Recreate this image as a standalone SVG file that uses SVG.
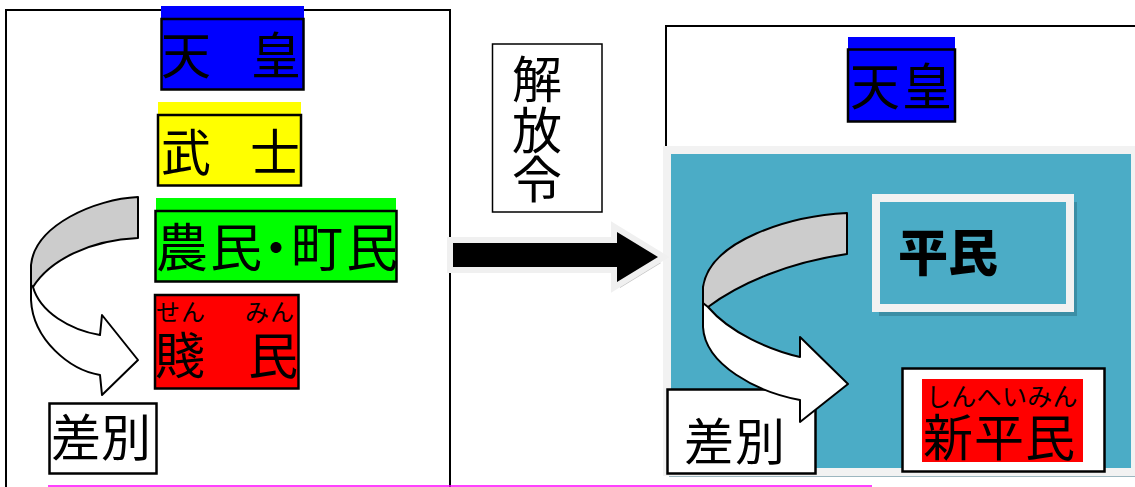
<svg xmlns="http://www.w3.org/2000/svg" width="1135" height="487" viewBox="0 0 1135 487">
<style>
.t{font-family:"Noto Sans CJK JP","Noto Sans CJK SC",sans-serif;fill:#000}
.box{stroke:#000;stroke-width:2.5}
.frame{fill:none;stroke:#000;stroke-width:2}
.arr{stroke:#000;stroke-width:2;stroke-linejoin:round}
</style>
<rect width="1135" height="487" fill="#fff"/>
<g id="left-frame"><path class="frame" d="M6,487 V10 H450 V487"/></g>
<g id="right-frame"><path class="frame" d="M666,150 V26 H1135"/></g>
<line x1="48" y1="486" x2="872" y2="486" stroke="#ff00ff" stroke-width="1.5"/>

<g id="tenno-left">
<rect x="161" y="6" width="143" height="12" fill="#0000ff"/>
<rect class="box" x="161.5" y="19" width="142" height="70.5" fill="#0000ff"/>
<text class="t" font-size="50" x="161 251" y="74">天皇</text>
</g>
<g id="bushi">
<rect x="158" y="102" width="143" height="12" fill="#ffff00"/>
<rect class="box" x="158" y="115" width="143" height="70.5" fill="#ffff00"/>
<text class="t" font-size="50" x="161 250" y="170.5">武士</text>
</g>
<g id="nomin-chomin">
<rect x="156" y="198" width="240" height="12" fill="#00ff00"/>
<rect class="box" x="155.5" y="211" width="241" height="70.5" fill="#00ff00"/>
<text class="t" font-size="52" x="156 210 250 291 346" y="267">農民・町民</text>
</g>
<g id="senmin">
<rect class="box" x="155" y="295" width="143.5" height="93.5" fill="#ff0000"/>
<text class="t" font-size="24" x="156 181 245 270" y="321">せんみん</text>
<text class="t" font-size="50" x="155 248" y="373.5">賤民</text>
</g>
<g id="sabetsu-left">
<rect class="box" x="49.5" y="403.5" width="107" height="70" fill="#fff"/>
<text class="t" font-size="50" x="51 101" y="456">差別</text>
</g>
<g id="kaihorei">
<rect x="492.5" y="44" width="109.5" height="168" fill="#fff" stroke="#000" stroke-width="1.5"/>
<text class="t" font-size="50" text-anchor="middle" x="537" y="98">解</text>
<text class="t" font-size="50" text-anchor="middle" x="537" y="149">放</text>
<text class="t" font-size="50" text-anchor="middle" x="537" y="198">令</text>
</g>

<g id="panel">
<rect x="669" y="155" width="468" height="322" fill="#9cb6bf"/>
<rect x="667" y="150" width="468" height="322" fill="#4bacc6" stroke="#f2f2f2" stroke-width="8"/>
</g>
<g id="tenno-right">
<rect x="848" y="37" width="107" height="12" fill="#0000ff"/>
<rect class="box" x="848" y="49.5" width="107" height="72" fill="#0000ff"/>
<text class="t" font-size="50" x="850 902" y="104.5">天皇</text>
</g>
<g id="heimin">
<rect x="879" y="202" width="198" height="114" fill="#3b8ea5"/>
<rect x="876" y="198" width="194" height="110" fill="#4bacc6" stroke="#f2f2f2" stroke-width="8"/>
<text class="t" font-size="50" font-weight="900" x="898 948" y="271">平民</text>
</g>
<g id="shinheimin">
<rect class="box" x="902.5" y="368.5" width="202" height="103" fill="#fff"/>
<rect x="922" y="379" width="161" height="83" fill="#ff0000"/>
<text class="t" font-size="25" x="926 951.3 976.6 1001.9 1027.2 1052.5" y="406">しんへいみん</text>
<text class="t" font-size="50" x="923 974 1025" y="456">新平民</text>
</g>
<g id="sabetsu-right">
<rect class="box" x="667.5" y="389.5" width="148" height="84" fill="#fff"/>
<text class="t" font-size="50" x="684 735" y="459.5">差別</text>
</g>

<g id="connectors">
<g id="kaiho-arrow">
<polygon points="456,249 620,249 620,238 661,263 620,288 620,273 456,273" fill="#c4c4c4"/>
<polygon points="453,243 617,243 617,232 658,257 617,282 617,267 453,267" fill="#f0f0f0" stroke="#f0f0f0" stroke-width="12" stroke-linejoin="miter"/>
<polygon points="453,243 617,243 617,232 658,257 617,282 617,267 453,267" fill="#000"/>
</g>
<g id="curve-left">
<path class="arr" fill="#cccccc" d="M138,197 C95,199 35,225 31,265 L31,287 L33,287 C50,260 90,240 138,238 Z"/>
<path class="arr" fill="#ffffff" d="M33,287 C40,312 70,330 100,335 L102,315 L138,360 L102,395 L100,375 C70,370 33,340 31,300 L31,285 Z"/>
</g>
<g id="curve-right">
<path class="arr" fill="#cccccc" d="M847,213 C790,216 710,240 703,287 L703,307 L708,307 C740,283 790,262 847,254 Z"/>
<path class="arr" fill="#ffffff" d="M708,307 C730,333 770,350 800,357 L800,337 L848,384 L800,422 L800,400 C757,392 705,365 703,327 L703,303 Z"/>
</g>
</g>
</svg>
